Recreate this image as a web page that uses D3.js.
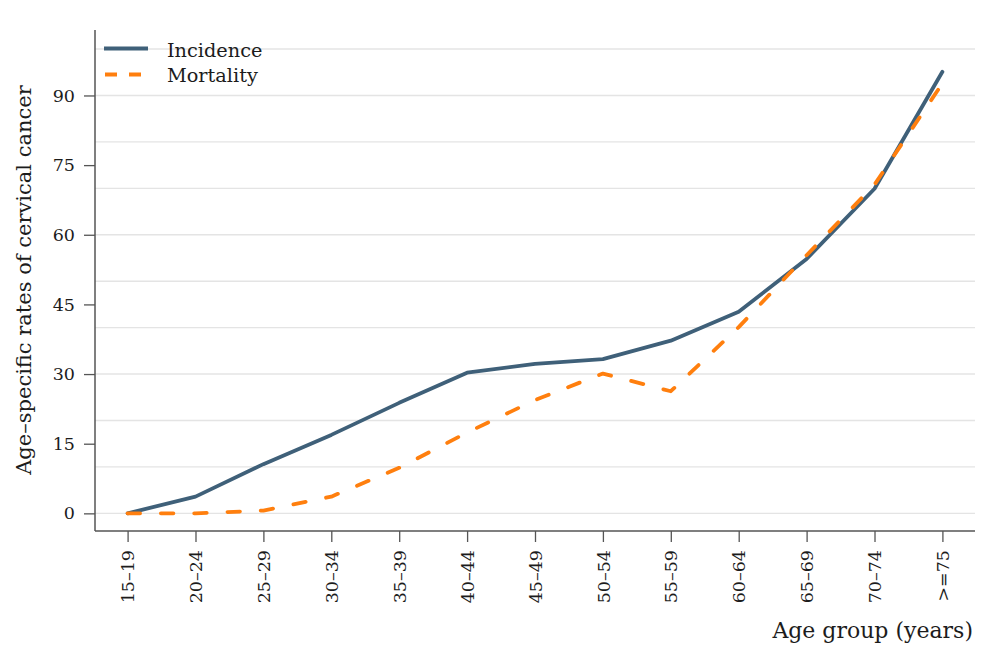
<!DOCTYPE html>
<html>
<head>
<meta charset="utf-8">
<script src="https://cdn.jsdelivr.net/npm/d3@7"></script>
<style>
  html, body { margin: 0; padding: 0; background: #fff; }
  svg { display: block; }
  text { font-family: "DejaVu Serif", "Liberation Serif", serif; fill: #1c1c1c; }
</style>
</head>
<body>
<svg id="chart" width="1005" height="647"></svg>
<script>
// Age groups and age-specific rates (per 100,000) of cervical cancer
const ageGroups = ["15\u201319", "20\u201324", "25\u201329", "30\u201334", "35\u201339", "40\u201344",
  "45\u201349", "50\u201354", "55\u201359", "60\u201364", "65\u201369", "70\u201374", ">=75"];
const incidence = [0, 3.6, 10.6, 16.9, 23.8, 30.3, 32.2, 33.2, 37.2, 43.4, 54.8, 69.9, 95.1];
const mortality = [0, 0, 0.6, 3.6, 9.8, 17.4, 24.4, 30.1, 26.3, 40.1, 55.6, 70.8, 92.6];
const yTicks = [0, 15, 30, 45, 60, 75, 90];
const gridValues = [0, 10, 20, 30, 40, 50, 60, 70, 80, 90, 100];

const svg = d3.select("#chart");
const plot = { left: 95, right: 975, top: 30, bottom: 531 };

const x = d3.scalePoint()
  .domain(ageGroups)
  .range([plot.left, plot.right])
  .padding(0.48);

const y = d3.scaleLinear()
  .domain([-3.8, 104.1])
  .range([plot.bottom, plot.top]);

// horizontal grid
svg.append("g")
  .selectAll("line")
  .data(gridValues)
  .join("line")
  .attr("x1", plot.left)
  .attr("x2", plot.right)
  .attr("y1", d => y(d))
  .attr("y2", d => y(d))
  .attr("stroke", "#e4e4e4")
  .attr("stroke-width", 1.4);

// y axis
const yAxis = svg.append("g")
  .attr("transform", `translate(${plot.left},0)`)
  .call(d3.axisLeft(y).tickValues(yTicks).tickSize(11).tickPadding(9).tickSizeOuter(0));
yAxis.select(".domain").attr("stroke", "#555").attr("stroke-width", 1.5)
  .attr("d", `M0,${plot.top}V${plot.bottom}`);
yAxis.selectAll(".tick line").attr("stroke", "#555").attr("stroke-width", 1.3);
yAxis.selectAll(".tick text")
  .attr("font-size", 17.5)
  .attr("font-family", "DejaVu Serif, serif")
  .attr("fill", "#1c1c1c");

// x axis
const xAxis = svg.append("g")
  .attr("transform", `translate(0,${plot.bottom})`)
  .call(d3.axisBottom(x).tickSize(11).tickSizeOuter(0));
xAxis.select(".domain").attr("stroke", "#555").attr("stroke-width", 1.5)
  .attr("d", `M${plot.left},0H${plot.right}`);
xAxis.selectAll(".tick line").attr("stroke", "#555").attr("stroke-width", 1.3);
xAxis.selectAll(".tick text")
  .attr("font-size", 17.5)
  .attr("font-family", "DejaVu Serif, serif")
  .attr("fill", "#1c1c1c")
  .attr("text-anchor", "end")
  .attr("transform", "rotate(-90)")
  .attr("x", -19)
  .attr("y", 0)
  .attr("dy", "0.35em");

// series lines
const line = (vals) => d3.line()
  .x((d, i) => x(ageGroups[i]))
  .y(d => y(d))(vals);

svg.append("path")
  .attr("d", line(incidence))
  .attr("fill", "none")
  .attr("stroke", "#3f6079")
  .attr("stroke-width", 3.8)
  .attr("stroke-linejoin", "round")
  .attr("stroke-linecap", "round");

svg.append("path")
  .attr("d", line(mortality))
  .attr("fill", "none")
  .attr("stroke", "#ff7f0e")
  .attr("stroke-width", 3.8)
  .attr("stroke-dasharray", "12.5 20.8")
  .attr("stroke-linejoin", "round")
  .attr("stroke-linecap", "round");

// legend
const legend = svg.append("g");
legend.append("line")
  .attr("x1", 104).attr("x2", 148).attr("y1", 48.5).attr("y2", 48.5)
  .attr("stroke", "#3f6079").attr("stroke-width", 3.8);
legend.append("line")
  .attr("x1", 105).attr("x2", 143).attr("y1", 74.5).attr("y2", 74.5)
  .attr("stroke", "#ff7f0e").attr("stroke-width", 3.8)
  .attr("stroke-dasharray", "12 12");
legend.append("text").attr("x", 167).attr("y", 57).attr("font-size", 19.3).text("Incidence");
legend.append("text").attr("x", 167).attr("y", 82).attr("font-size", 19.3).text("Mortality");

// axis titles
svg.append("text")
  .attr("x", 973).attr("y", 638)
  .attr("text-anchor", "end")
  .attr("font-size", 22)
  .text("Age group (years)");

svg.append("text")
  .attr("transform", "translate(31,280) rotate(-90)")
  .attr("text-anchor", "middle")
  .attr("font-size", 21)
  .text("Age\u2013specific rates of cervical cancer");
</script>
</body>
</html>
